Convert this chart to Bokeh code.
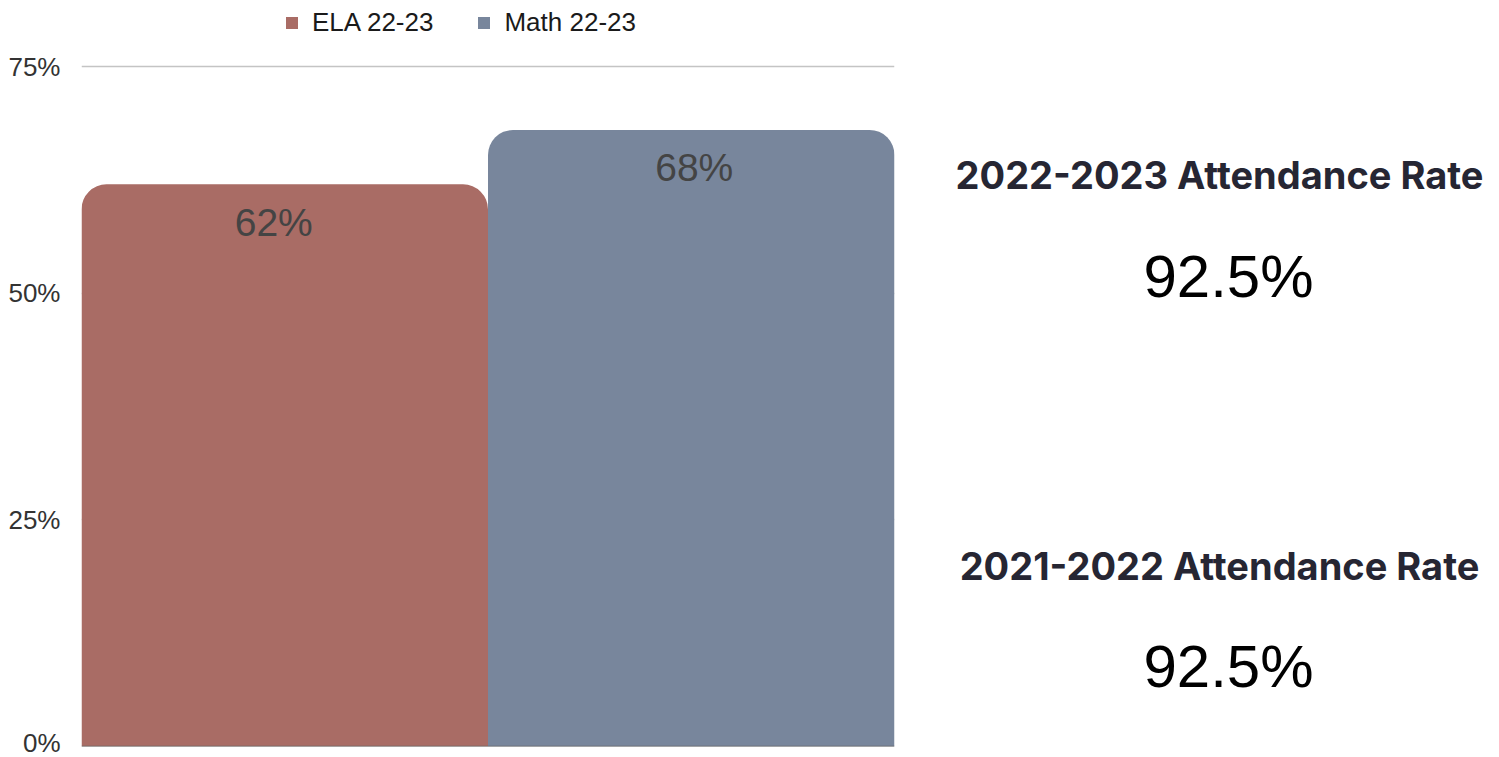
from bokeh.plotting import figure
from bokeh.models import ColumnDataSource, Range1d, FactorRange, Legend, LegendItem, FixedTicker, Span
from bokeh.layouts import row
from bokeh.embed import file_html
from bokeh.resources import INLINE
from bokeh.core.properties import value

categories = ["ELA 22-23", "Math 22-23"]
scores = [62, 68]
bar_colors = ["#A96C65", "#78869C"]
score_labels = ["62%", "68%"]
y_ticks = [0, 25, 50, 75]
y_tick_labels = ["0%", "25%", "50%", "75%"]
att_titles = ["2022-2023 Attendance Rate", "2021-2022 Attendance Rate"]
att_values = ["92.5%", "92.5%"]

# layout / style (not data)
W, H = 1499, 757
LW = 900
FRAME_BOTTOM = 746          # px from top
TOP_TICK_PX = 66            # px from top where the top tick sits
label_nudge_px = [-11, 3]   # horizontal nudge of value labels
ymax = y_ticks[-1] * FRAME_BOTTOM / (FRAME_BOTTOM - TOP_TICK_PX)

src = ColumnDataSource(dict(cat=categories, val=scores, color=bar_colors, lab=score_labels,
                            nudge=label_nudge_px))

p = figure(width=LW, height=H, x_range=FactorRange(*categories, range_padding=0),
           y_range=Range1d(0, ymax), output_backend="svg", toolbar_location=None,
           min_border_left=81, min_border_right=LW - 894, min_border_top=0,
           min_border_bottom=H - FRAME_BOTTOM)
p.outline_line_color = None
p.background_fill_color = "white"
p.border_fill_color = "white"

bars = p.vbar(x="cat", top="val", width=1.0, source=src, fill_color="color", line_color=None,
              border_radius=(25, 25, 0, 0))
p.text(x="cat", y="val", text="lab", source=src, text_align="center", text_baseline="middle",
       x_offset="nudge", y_offset=38, text_font=value("Liberation Sans"), text_font_size="39px",
       text_color="#444444")

items = [LegendItem(label=c, renderers=[bars], index=i) for i, c in enumerate(categories)]
legend = Legend(items=items, orientation="horizontal", location=(203, 708),
                glyph_width=15, glyph_height=15, label_standoff=13, spacing=43,
                padding=0, margin=0, border_line_color=None, background_fill_alpha=0,
                label_text_font="Liberation Sans", label_text_font_size="26px",
                label_text_color="#1a1a1a")
p.add_layout(legend, "center")

p.xaxis.visible = False
p.xgrid.grid_line_color = None
p.add_layout(Span(location=0, dimension="width", line_color="#666666", line_width=1.5))

p.yaxis.ticker = FixedTicker(ticks=y_ticks)
p.yaxis.major_label_overrides = {t: l for t, l in zip(y_ticks, y_tick_labels)}
p.yaxis.axis_line_color = None
p.yaxis.major_tick_line_color = None
p.yaxis.minor_tick_line_color = None
p.yaxis.major_label_standoff = 15
p.yaxis.major_label_text_font = "Liberation Sans"
p.yaxis.major_label_text_font_size = "26px"
p.yaxis.major_label_text_color = "#333333"
p.ygrid.grid_line_color = "#C4C4C4"
p.ygrid.grid_line_width = 1.5

RW = W - LW
q = figure(width=RW, height=H, x_range=Range1d(0, RW), y_range=Range1d(FRAME_BOTTOM, 0),
           output_backend="svg", toolbar_location=None,
           min_border_left=0, min_border_right=0, min_border_top=0,
           min_border_bottom=H - FRAME_BOTTOM)
q.axis.visible = False
q.grid.visible = False
q.outline_line_color = None

tsrc = ColumnDataSource(dict(x=[1219 - LW, 1219 - LW], y=[174, 565], t=att_titles))
vsrc = ColumnDataSource(dict(x=[1228 - LW, 1228 - LW], y=[276, 666], t=att_values))
q.text(x="x", y="y", text="t", source=tsrc, text_align="center", text_baseline="middle",
       text_font=value("Inter"), text_font_style="bold", text_font_size="38px", text_color="#262633")
q.text(x="x", y="y", text="t", source=vsrc, text_align="center", text_baseline="middle",
       text_font=value("Liberation Sans"), text_font_size="60px", text_color="#000000")

layout = row(p, q)
open("out.html", "w").write(file_html(layout, INLINE))
